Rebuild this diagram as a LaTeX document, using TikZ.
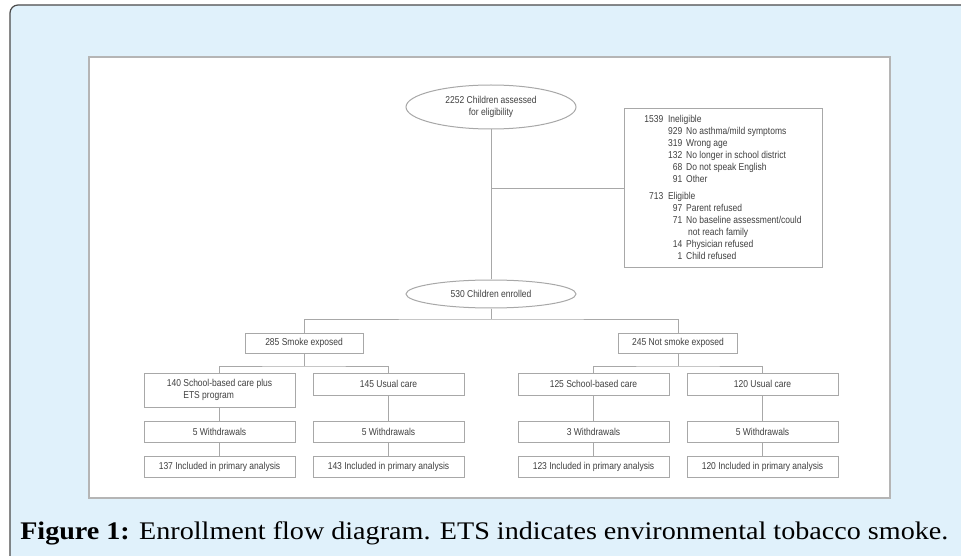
\documentclass[tikz,border=0pt]{standalone}
\usepackage{fontspec}
\setmainfont{Liberation Serif}
\newfontfamily\flowfont{Liberation Sans}[FakeStretch=0.85]
\usetikzlibrary{shapes.geometric}
\definecolor{panelblue}{HTML}{E0F1FB}
\definecolor{panelrim}{HTML}{4A4A4A}
\definecolor{linegray}{HTML}{A8A8A8}
\definecolor{textgray}{HTML}{404040}
\tikzset{
  flowline/.style={draw=linegray, line width=0.75pt},
  flowbox/.style={flowline, fill=white, minimum width=113.25pt, minimum height=15.75pt,
    inner sep=1pt, text=textgray, align=center, font=\flowfont\fontsize{7.5}{9.5}\selectfont},
  flowoval/.style={flowbox, ellipse, inner sep=0pt, minimum width=127.5pt},
}
\begin{document}
\begin{tikzpicture}[x=0.75pt, y=-0.75pt]
\clip (0,0) rectangle (961,556);
\useasboundingbox (0,0) rectangle (961,556);
% panels
\draw[fill=panelblue, draw=panelrim, line width=0.9pt, rounded corners=6pt] (10,5) rectangle (980,580);
\draw[fill=white, draw=linegray!85, line width=1.4pt] (89,57) rectangle (890,498);
% top part
\node[flowoval, minimum height=33pt] (assessed) at (491,107) {2252 Children assessed\\for eligibility};
\node[flowbox, minimum width=148.5pt, minimum height=119.25pt, font=\flowfont\fontsize{7.5}{9}\selectfont] (excluded) at (723,188.5) {%
\begin{tabular}{@{}r@{\hspace{3.5pt}}r@{\hspace{3pt}}l@{}}
1539 & \multicolumn{2}{@{}l@{}}{Ineligible}\\
 & 929 & No asthma/mild symptoms\\
 & 319 & Wrong age\\
 & 132 & No longer in school district\\
 & 68 & Do not speak English\\
 & 91 & Other\\[3.75pt]
713 & \multicolumn{2}{@{}l@{}}{Eligible}\\
 & 97 & Parent refused\\
 & 71 & No baseline assessment/could\\
 & & \hspace{1.5pt}not reach family\\
 & 14 & Physician refused\\
 & 1 & Child refused
\end{tabular}};
\node[flowoval, minimum height=21pt] (enrolled) at (491,294) {530 Children enrolled};
\draw[flowline] (assessed) -- (enrolled);
\draw[flowline] (assessed.south |- excluded.west) -- (excluded.west);
% groups
\node[flowbox, minimum width=88.5pt, minimum height=15pt] (smoke) at (304,343) {285 Smoke exposed};
\node[flowbox, minimum width=89pt, minimum height=15pt] (nosmoke) at (678,343) {245 Not smoke exposed};
\coordinate (split0) at (491,319);
\coordinate (splitL) at (304,366);
\coordinate (splitR) at (678,366);
\draw[flowline] (enrolled) -- (split0);
\draw[flowline] (smoke.north) |- (split0) -| (nosmoke.north);
% arms
\node[flowbox, minimum height=25.5pt] (care1) at (219.5,390) {%
\begin{tabular}{@{}r@{ }l@{}}140 & School-based care plus\\ & ETS program\end{tabular}};
\node[flowbox, minimum height=16.5pt] (care2) at (388.5,384) {145 Usual care};
\node[flowbox, minimum height=16.5pt] (care3) at (593.5,384) {125 School-based care};
\node[flowbox, minimum height=16.5pt] (care4) at (762.5,384) {120 Usual care};
\draw[flowline] (smoke) -- (splitL);
\draw[flowline] (care1.north) |- (splitL) -| (care2.north);
\draw[flowline] (nosmoke) -- (splitR);
\draw[flowline] (care3.north) |- (splitR) -| (care4.north);
\foreach \x/\w/\n [count=\i] in {219.5/5/137, 388.5/5/143, 593.5/3/123, 762.5/5/120} {
  \node[flowbox] (with\i) at (\x,431.5) {\w\ Withdrawals};
  \node[flowbox] (incl\i) at (\x,466.5) {\n\ Included in primary analysis};
  \draw[flowline] (care\i) -- (with\i) -- (incl\i);
}
% caption
\node[anchor=base west, inner sep=0pt] (caption) at (20,539) {\resizebox{696pt}{\height}{\fontsize{19}{22}\selectfont\textbf{Figure 1:} Enrollment flow diagram. ETS indicates environmental tobacco smoke.}};
\end{tikzpicture}
\end{document}
